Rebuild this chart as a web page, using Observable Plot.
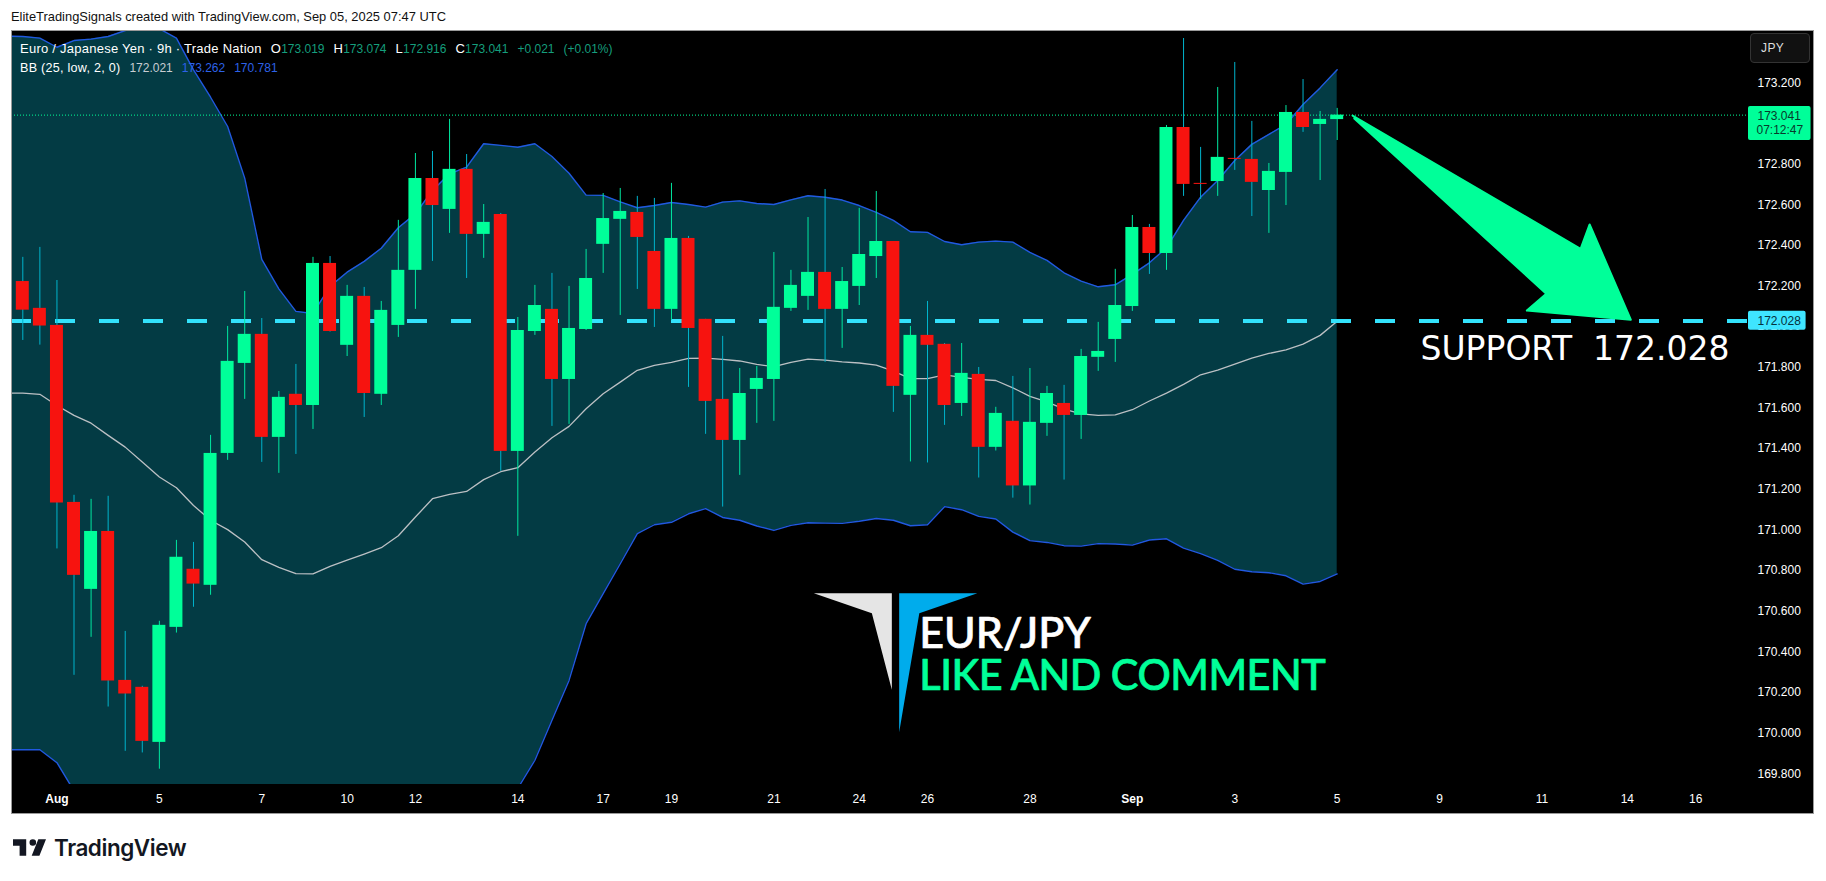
<!DOCTYPE html>
<html>
<head>
<meta charset="utf-8">
<script src="https://cdn.jsdelivr.net/npm/d3@7"></script>
<script src="https://cdn.jsdelivr.net/npm/@observablehq/plot@0.6"></script>
<style>
html,body{margin:0;padding:0;background:#fff;overflow:hidden;width:1826px;height:881px}
#header{height:30px;padding-left:11px;font:12.9px/33px "Liberation Sans",sans-serif;color:#111;box-sizing:border-box;white-space:nowrap}
#chart{position:relative;margin-left:11px;width:1803px;height:784px;background:#000}
#chart svg{display:block}
#frame{position:absolute;inset:0;border:1px solid #9a9a9a;pointer-events:none}
#legend{position:absolute;left:9px;top:9px;font:13px/19px "Liberation Sans",sans-serif;color:#fff;letter-spacing:.25px}
#legend div{height:19px;white-space:nowrap}
#legend span{display:inline-block}
#legend .n{font-size:12px;letter-spacing:0}
#legend .k{font-size:12.6px}
#legend .t{color:#159e7c}
#legend .b{color:#2d62e8}
#legend .g{color:#c8cdd2}
#legend .s{margin-left:9px}
#jpy{position:absolute;left:1739px;top:3px;width:60px;height:30px;box-sizing:border-box;background:#111;border:1px solid #333;border-radius:4px;color:#ddd;font:12px/28px "Liberation Sans",sans-serif;padding-left:10px;letter-spacing:.4px}
#footer{display:flex;align-items:center;height:67px;padding-left:13px;box-sizing:border-box;color:#131722}
#footer svg{width:33px;height:17px;margin-right:8px}
#footer span{font:600 22.5px "Inter",sans-serif;letter-spacing:-.45px;margin-top:-1px}
</style>
</head>
<body>
<div id="header">EliteTradingSignals created with TradingView.com, Sep 05, 2025 07:47 UTC</div>
<div id="chart">
  <div id="legend"></div>
  <div id="jpy">JPY</div>
  <div id="frame"></div>
</div>
<div id="footer">
  <svg viewBox="2 6 30 15"><path fill="#131722" d="M14 6H2v6h6v9h6V6Zm12 15h-7l6-15h7l-6 15Zm-6-9a3 3 0 1 0 0-6 3 3 0 0 0 0 6Z"/></svg>
  <span>TradingView</span>
</div>
<script>
const opens=[172.222,172.090,172.006,171.135,170.707,170.992,170.259,170.225,169.954,170.520,170.806,170.727,171.376,171.819,171.962,171.455,171.667,171.612,172.311,171.908,172.149,171.667,172.006,172.277,172.729,172.577,172.774,172.454,172.552,171.386,171.976,172.085,171.740,171.986,172.405,172.528,172.562,172.370,172.085,172.434,172.036,171.642,171.440,171.691,171.740,172.090,172.149,172.267,172.085,172.198,172.345,172.419,171.662,171.957,171.913,171.622,171.765,171.406,171.534,171.216,171.524,171.622,171.563,171.849,171.937,172.099,172.488,172.360,172.980,172.705,172.714,172.828,172.823,172.670,172.759,173.054,172.995,173.019];
const closes=[172.081,172.003,171.132,170.776,170.992,170.256,170.192,169.959,170.530,170.865,170.733,171.376,171.829,171.962,171.455,171.652,171.612,172.311,171.976,172.149,171.671,172.080,172.277,172.729,172.596,172.774,172.454,172.513,171.386,171.981,172.104,171.740,171.991,172.237,172.532,172.567,172.439,172.085,172.434,171.991,171.632,171.440,171.671,171.745,172.095,172.203,172.267,172.085,172.222,172.355,172.419,171.706,171.957,171.908,171.612,171.770,171.406,171.573,171.216,171.529,171.671,171.563,171.853,171.878,172.104,172.488,172.360,172.980,172.700,172.700,172.833,172.823,172.710,172.764,173.054,172.980,173.020,173.041];
const highs=[172.341,172.390,172.227,171.170,171.150,171.165,170.500,170.230,170.550,170.948,170.938,171.465,172.001,172.173,172.040,171.681,171.814,172.341,172.345,172.203,172.193,172.124,172.523,172.852,172.862,173.020,172.847,172.601,172.557,172.045,172.203,172.262,172.198,172.380,172.655,172.680,172.641,172.631,172.705,172.444,172.036,171.952,171.794,171.804,172.365,172.277,172.537,172.675,172.291,172.582,172.665,172.419,172.001,172.124,171.917,171.917,171.799,171.603,171.755,171.794,171.706,171.711,171.888,172.021,172.282,172.547,172.503,172.990,173.418,172.882,173.177,173.300,173.010,172.803,173.088,173.216,173.059,173.074];
const lows=[171.932,171.909,170.906,170.284,170.471,170.128,169.910,169.902,169.822,170.492,170.619,170.678,171.342,171.642,171.332,171.278,171.371,171.494,171.973,171.853,171.553,171.612,171.947,172.085,172.321,172.459,172.237,172.336,171.288,170.968,171.957,171.509,171.519,171.981,172.262,172.055,172.183,171.996,172.031,171.701,171.470,171.112,171.268,171.524,171.534,172.075,172.080,171.824,171.893,172.104,172.237,171.578,171.334,171.329,171.514,171.558,171.255,171.388,171.156,171.122,171.460,171.245,171.445,171.780,171.824,172.075,172.257,172.277,172.641,172.626,172.641,172.769,172.542,172.459,172.596,172.956,172.719,172.916];
// Bollinger bands: first value sits one bar before the first candle
const bandUpper=[173.430,173.428,173.420,173.375,173.408,173.415,173.428,173.457,173.490,173.466,173.420,173.264,173.129,172.985,172.731,172.331,172.186,172.075,172.065,172.198,172.268,172.321,172.386,172.487,172.555,172.670,172.752,172.785,172.900,172.892,172.883,172.900,172.837,172.755,172.647,172.646,172.614,172.585,172.596,172.611,172.601,172.588,172.613,172.619,172.606,172.601,172.624,172.644,172.637,172.623,172.596,172.562,172.523,172.467,172.464,172.419,172.403,172.416,172.421,172.416,172.365,172.326,172.265,172.224,172.196,172.206,172.257,172.314,172.388,172.523,172.637,172.719,172.818,172.897,172.946,172.995,173.093,173.175,173.264];
const bandMiddle=[171.673,171.673,171.667,171.612,171.563,171.525,171.465,171.407,171.334,171.260,171.207,171.120,171.047,171.001,170.940,170.853,170.815,170.784,170.783,170.820,170.851,170.881,170.912,170.971,171.063,171.153,171.175,171.189,171.247,171.286,171.306,171.383,171.453,171.509,171.596,171.670,171.727,171.785,171.809,171.824,171.844,171.845,171.839,171.831,171.814,171.803,171.824,171.840,171.835,171.827,171.821,171.811,171.781,171.744,171.744,171.763,171.750,171.740,171.735,171.699,171.657,171.630,171.594,171.571,171.563,171.566,171.591,171.634,171.673,171.716,171.763,171.786,171.816,171.845,171.868,171.886,171.914,171.957,172.026];
const bandLower=[169.918,169.918,169.918,169.854,169.715,169.635,169.497,169.349,169.193,169.046,168.995,168.977,168.964,169.016,169.149,169.375,169.444,169.494,169.500,169.443,169.434,169.441,169.438,169.456,169.571,169.636,169.597,169.594,169.594,169.680,169.728,169.866,170.063,170.259,170.538,170.686,170.833,170.981,171.025,171.037,171.079,171.104,171.061,171.047,171.019,170.997,171.022,171.035,171.033,171.032,171.042,171.056,171.047,171.020,171.025,171.114,171.099,171.066,171.053,170.989,170.947,170.938,170.922,170.920,170.932,170.930,170.925,170.950,170.956,170.910,170.883,170.850,170.806,170.794,170.789,170.774,170.733,170.746,170.783];
const dayBars=[8,14,19,23,29,34,38,44,49,53,59,71,77,83,89,94,98];
const dayLabels=["5","7","10","12","14","17","19","21","24","26","28","3","5","9","11","14","16"];
const monthBars=[2,65];
const monthLabels=["Aug","Sep"];
const priceTicks=[169.8,170,170.2,170.4,170.6,170.8,171,171.2,171.4,171.6,171.8,172,172.2,172.4,172.6,172.8,173.2];
const supportPrice=172.028, lastPrice=173.041;
const arrowBars=[77.9,91.26,91.79,94.2,88.11,89.25,78.0];
const arrowPrices=[173.039,172.383,172.503,172.034,172.079,172.162,173.024];
const logoGreyBars=[46.34,50.91,50.91,49.74];
const logoGreyPrices=[170.688,170.688,170.213,170.590];
const logoBlueBars=[51.34,55.92,52.52,51.34];
const logoBluePrices=[170.688,170.688,170.590,170.004];
// legend rows: text, then class names
const legendRows=[
 [["Euro / Japanese Yen · 9h · Trade Nation",""],["O","s"],["173.019","n t"],["H","s"],["173.074","n t"],["L","s"],["172.916","n t"],["C","s"],["173.041","n t"],["+0.021","s n t"],["(+0.01%)","s n t"]],
 [["BB (25, low, 2, 0)","k"],["172.021","s n g"],["173.262","s n b"],["170.781","s n b"]]
];

const GREEN="#00ff99",RED="#f7130f",CYAN="#33e2fc",FONT="Liberation Sans";
const candles=opens.map((o,i)=>({i,o,c:closes[i],h:highs[i],l:lows[i],up:closes[i]>=o}));
const bands=bandUpper.map((u,k)=>({i:k-1,u,m:bandMiddle[k],l:bandLower[k]}));
const zip=(a,b)=>a.map((x,k)=>({x,y:b[k]}));
const dayFmt=new Map(dayBars.map((b,k)=>[b,dayLabels[k]]));
const monFmt=new Map(monthBars.map((b,k)=>[b,monthLabels[k]]));
const PANE=101.096;

const chart=Plot.plot({
  width:1803,height:784,marginLeft:0,marginRight:66,marginTop:0,marginBottom:30,
  style:{background:"#000",fontFamily:FONT,fontSize:"12px",color:"#fff"},
  x:{type:"linear",domain:[-0.662,PANE],label:null},
  y:{type:"linear",domain:[169.7467,173.4574],label:null},
  marks:[
    Plot.areaY(bands,{x:"i",y1:"l",y2:"u",fill:"#033b44",clip:true}),
    Plot.line(bands,{x:"i",y:"m",stroke:"#bcc0c4",strokeWidth:1.3,clip:true}),
    Plot.line(bands,{x:"i",y:"u",stroke:"#2159e0",strokeWidth:1.4,clip:true}),
    Plot.line(bands,{x:"i",y:"l",stroke:"#2159e0",strokeWidth:1.4,clip:true}),
    Plot.ruleY([lastPrice],{stroke:GREEN,strokeWidth:1,strokeDasharray:"1,2"}),
    Plot.ruleY([supportPrice],{stroke:CYAN,strokeWidth:4,strokeDasharray:"20,24"}),
    Plot.ruleX(candles,{x:"i",y1:"l",y2:"h",strokeWidth:1,stroke:d=>d.up?"#00e8a0":"#00b4cc",clip:true}),
    Plot.rect(candles,{x1:d=>d.i-0.38,x2:d=>d.i+0.38,y1:"o",y2:"c",fill:d=>d.up?GREEN:RED,clip:true}),
    Plot.line(zip(arrowBars,arrowPrices),{x:"x",y:"y",z:null,fill:GREEN,stroke:GREEN,strokeWidth:2,strokeLinejoin:"round"}),
    Plot.line(zip(logoGreyBars,logoGreyPrices),{x:"x",y:"y",fill:"#e5e5e5"}),
    Plot.line(zip(logoBlueBars,logoBluePrices),{x:"x",y:"y",fill:"#00acec"}),
    Plot.text(["EUR/JPY"],{x:52.52,y:170.486,text:d=>d,textAnchor:"start",fill:"#fff",stroke:"#fff",strokeWidth:0.7,fontSize:43,fontFamily:"Lato",fontWeight:500}),
    Plot.text(["LIKE AND COMMENT"],{x:52.52,y:170.275,text:d=>d,textAnchor:"start",fill:GREEN,stroke:GREEN,strokeWidth:0.7,fontSize:41.5,fontFamily:"Lato",fontWeight:500}),
    Plot.text(["SUPPORT  172.028"],{x:81.88,y:171.887,text:d=>d,textAnchor:"start",fill:"#fff",fontSize:33,fontFamily:"DejaVu Sans"}),
    Plot.axisX({ticks:dayBars,tickFormat:d=>dayFmt.get(d),tickSize:0,tickPadding:10,fontSize:12,fill:"#fff",label:null}),
    Plot.axisX({ticks:monthBars,tickFormat:d=>monFmt.get(d),tickSize:0,tickPadding:10,fontSize:12,fontWeight:"bold",fill:"#fff",label:null}),
    Plot.axisY({anchor:"right",ticks:priceTicks,tickFormat:d=>d.toFixed(3),tickSize:0,tickPadding:9,fontSize:12,fill:"#fff",label:null}),
    Plot.rect([0],{x1:PANE,x2:104.76,y1:172.916,y2:173.083,fill:GREEN,r:2}),
    Plot.rect([0],{x1:PANE,x2:104.47,y1:171.982,y2:172.076,fill:"#3fe5ff",r:2}),
    Plot.text(["173.041"],{x:PANE,y:lastPrice,dx:9,dy:1,text:d=>d,textAnchor:"start",fill:"#08392b",fontSize:12}),
    Plot.text(["07:12:47"],{x:PANE,y:172.967,dx:8,text:d=>d,textAnchor:"start",fill:"#08392b",fontSize:12}),
    Plot.text(["172.028"],{x:PANE,y:supportPrice,dx:9,text:d=>d,textAnchor:"start",fill:"#06323c",fontSize:12})
  ]
});
d3.select(chart).selectAll("text").filter(function(){return this.textContent==="LIKE AND COMMENT"}).style("letter-spacing","-0.5px");
const host=document.getElementById("chart");
host.insertBefore(chart,host.firstChild);
document.getElementById("legend").innerHTML=legendRows.map(r=>"<div>"+r.map(([t,c])=>`<span class="${c}">${t}</span>`).join("")+"</div>").join("");
</script>
</body>
</html>
